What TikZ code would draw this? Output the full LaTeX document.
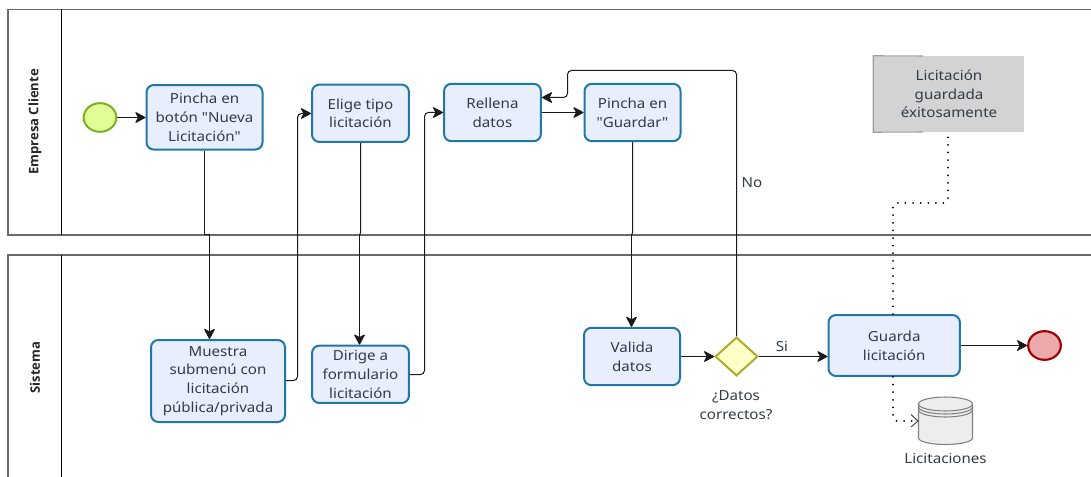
\documentclass[tikz,border=0pt]{standalone}
\usepackage{fontspec}
\setmainfont{Noto Sans}
\newfontfamily\wide[FakeStretch=1.09]{Noto Sans}
\newfontfamily\titlefont{Open Sans}
\usetikzlibrary{arrows.meta,shapes.geometric,calc}
\definecolor{taskblue}{HTML}{1F78A8}
\definecolor{taskfill}{HTML}{E9EEFC}
\definecolor{txt}{HTML}{333A45}
\definecolor{lanegray}{HTML}{6A6A6A}
\tikzset{
  x=0.75pt,y=-0.75pt,
  task/.style={draw=taskblue,fill=taskfill,line width=1.5pt,rounded corners=5.5pt,align=center,
    text=txt,font=\wide\fontsize{10.4pt}{14pt}\selectfont,inner sep=0pt},
  flow/.style={draw=black!90,line width=0.75pt,rounded corners=3pt,-{Stealth[length=8.5pt,width=9pt,inset=2.4pt,round]}},
  plain/.style={draw=black!90,line width=0.75pt,rounded corners=3pt},
  assoc/.style={draw=black,line width=1.5pt,line cap=round,dash pattern=on 0pt off 5.7pt,rounded corners=3pt},
  lbl/.style={text=txt,font=\wide\fontsize{10.4pt}{14pt}\selectfont,align=center,inner sep=0pt},
  lane/.style={draw=lanegray,line width=0.9pt},
  lanetitle/.style={rotate=90,font=\titlefont\fontsize{9.8pt}{12pt}\selectfont\bfseries,text=black!85,inner sep=0pt}
}
\begin{document}
\begin{tikzpicture}
\useasboundingbox (0,0) rectangle (1091,477);
\begin{scope}
\clip (0,0) rectangle (1091,477);
% lanes
\draw[lane] (1095,9.5) -- (8,9.5) -- (8,235) -- (1095,235);
\draw[lane] (1095,255) -- (8,255) -- (8,480);
\draw[black,line width=0.7pt] (61.5,9.5) -- (61.5,235);
\draw[black,line width=0.7pt] (61.5,255) -- (61.5,480);
\node[lanetitle] (laneA) at (35,122) {Empresa Cliente};
\node[lanetitle] (laneB) at (35,367.5) {Sistema};
% events
\node[ellipse,draw={rgb,255:red,122;green,178;blue,38},fill={rgb,255:red,224;green,255;blue,150},line width=1.5pt,minimum width=24.5pt,minimum height=21.5pt,inner sep=0pt] (start) at (100,117.5) {};
\node[ellipse,draw={rgb,255:red,160;green,0;blue,0},fill={rgb,255:red,236;green,168;blue,170},line width=1.6pt,minimum width=24.5pt,minimum height=21.5pt,inner sep=0pt] (stop) at (1044.5,345.5) {};
% tasks
\node[task,minimum width=87pt,minimum height=48.4pt] (pincha) at (204.5,117.3) {Pincha en\\botón "Nueva\\Licitación"};
\node[task,minimum width=72.7pt,minimum height=43pt] (elige) at (360.5,113.3) {Elige tipo\\licitación};
\node[task,minimum width=72.7pt,minimum height=43pt] (rellena) at (492.5,112.5) {Rellena\\datos};
\node[task,minimum width=72pt,minimum height=43pt] (guardar) at (632.5,112.5) {Pincha en\\"Guardar"};
\node[task,minimum width=100.5pt,minimum height=61.5pt] (muestra) at (218,381) {Muestra\\submenú con\\licitación\\pública/privada};
\node[task,minimum width=72.7pt,minimum height=43pt] (dirige) at (360.5,374.3) {Dirige a\\formulario\\licitación};
\node[task,minimum width=72pt,minimum height=43pt] (valida) at (632,356.5) {Valida\\datos};
\node[task,minimum width=98.5pt,minimum height=45.7pt] (guarda) at (894.2,345.5) {Guarda\\licitación};
% gateway
\node[diamond,draw={rgb,255:red,172;green,172;blue,40},fill={rgb,255:red,255;green,255;blue,200},line width=1.5pt,minimum width=32pt,minimum height=29pt,inner sep=0pt] (gw) at (736.5,356.5) {};
\node[lbl] (gwlabel) at (736,405) {¿Datos\\correctos?};
% note
\node[fill={rgb,255:red,211;green,211;blue,211},minimum width=113.2pt,minimum height=57pt,inner sep=0pt,align=center,text=txt,font=\wide\fontsize{10.4pt}{14pt}\selectfont] (note) at (949,94) {Licitación\\guardada\\éxitosamente};
\draw[draw=gray!75,line width=0.8pt] (923,56) -- (note.north west) -- (note.south west) -- (923,132);
% data store
\node[minimum width=41pt,minimum height=35pt,inner sep=0pt] (db) at (945.5,420.5) {};
\draw[draw=gray,fill=black!7,line width=0.8pt] (918.5,404) -- (918.5,438) arc[start angle=180,end angle=360,x radius=27,y radius=-6.5] -- (972.5,404) arc[start angle=0,end angle=180,x radius=27,y radius=-7] -- cycle;
\draw[draw=gray,line width=0.8pt] (918.5,404) arc[start angle=180,end angle=360,x radius=27,y radius=-7];
\draw[draw=gray,line width=0.8pt] (918.5,407) arc[start angle=180,end angle=360,x radius=27,y radius=-7];
\draw[draw=gray,line width=0.8pt] (918.5,410) arc[start angle=180,end angle=360,x radius=27,y radius=-7];
\node[lbl] (dblabel) at (945.5,458) {Licitaciones};
% waypoints
\coordinate (j1) at (209.5,235);
\coordinate (j2) at (359.5,235);
\coordinate (j3) at (631.5,235);
\coordinate (rM) at (297.5,380.5);
\coordinate (rD) at (424.5,374.5);
\coordinate (top) at (567.5,70.5);
\coordinate (topr) at (736.5,70.5);
\coordinate (d1) at (893,203);
\coordinate (d2) at (948,203);
\coordinate (d3) at (893,421);
% connectors
\draw[flow] (start) -- (pincha.west |- start);
\draw[plain,rounded corners=0pt] (pincha.south) -- (pincha.south |- j1) -- (j1);
\draw[flow] (j1) -- (j1 |- muestra.north);
\draw[flow] (muestra.east |- rM) -- (rM) -- (rM |- 0,113.5) -- (elige.west |- 0,113.5);
\draw[plain,rounded corners=0pt] (elige.south) -- (elige.south |- 0,233) -- (j2);
\draw[flow] (j2) -- (j2 |- dirige.north);
\draw[flow] (dirige.east |- rD) -- (rD) -- (rD |- rellena.west) -- (rellena.west);
\draw[flow] (rellena.east) -- (guardar.west);
\draw[plain,rounded corners=0pt] (guardar.south) -- (guardar.south |- 0,233) -- (j3);
\draw[flow] (j3) -- (j3 |- valida.north);
\draw[flow] (valida.east |- gw) -- (gw.west);
\draw[flow] (gw.east) -- (guarda.west |- gw);
\draw[flow] (gw.north) -- (topr) -- (top) -- (top |- 0,97.5) -- (rellena.east |- 0,97.5);
\draw[flow] (guarda.east) -- (stop.west);
\draw[assoc] (guarda.north -| d1) -- (d1) -- (d2) -- (d2 |- note.south);
\draw[assoc] (guarda.south -| d3) -- (d3) -- (912,421);
\draw[draw=black!75,line width=0.7pt] (911,414.5) -- (918,421) -- (911,427);
\node[lbl] (no) at (752,183) {No};
\node[lbl] (si) at (782,346) {Si};
\end{scope}
\end{tikzpicture}
\end{document}
